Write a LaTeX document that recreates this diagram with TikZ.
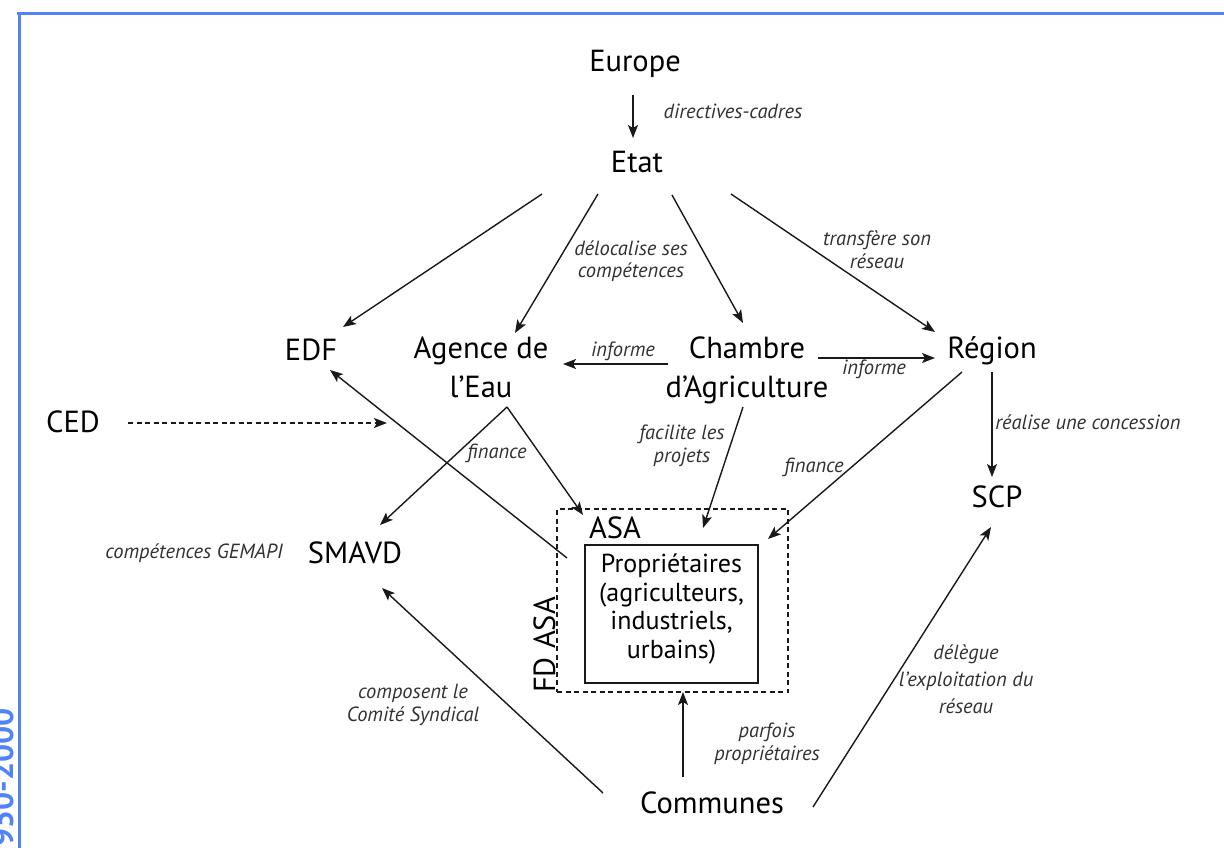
\documentclass[tikz,border=0pt]{standalone}
\usepackage{fontspec}
\setmainfont{PT Sans}
\usetikzlibrary{arrows.meta}
\definecolor{frameblue}{RGB}{80,130,250}
\definecolor{labgray}{RGB}{50,50,50}
\begin{document}
\begin{tikzpicture}[x=1pt,y=-1pt,
  big/.style={inner sep=0, anchor=base, align=center, font=\fontsize{30.5}{39}\selectfont, text=black},
  med/.style={inner sep=0, anchor=base, align=center, font=\fontsize{26}{28.5}\selectfont, text=black},
  lbl/.style={inner sep=0, anchor=base, align=center, font=\fontsize{20.5}{22.5}\selectfont\itshape, text=labgray},
  arr/.style={line width=1.4pt, draw=black!90, -{Stealth[length=13pt,width=10pt,inset=3pt]}},
  darr/.style={arr, dash pattern=on 5pt off 3.5pt},
  framel/.style={line width=3.5pt, draw=frameblue},
  dashbox/.style={draw=black!90, line width=1.8pt, dash pattern=on 5pt off 3.5pt, inner sep=0},
  solidbox/.style={draw=black!90, line width=1.8pt, inner sep=0}
]
\useasboundingbox (0,0) rectangle (1224,848);
\fill[white] (0,0) rectangle (1224,848);

% frame
\draw[framel] (17,13.5) -- (1224,13.5);
\draw[framel] (19.5,12) -- (19.5,848);
\node[inner sep=0, rotate=90, anchor=base east, text=frameblue,
      font=\fontsize{32}{32}\selectfont\bfseries] (years) at (13,708) {1950-2000};

% main nodes (anchor = baseline of last line)
\node[big] (europe) at (635,72) {Europe};
\node[big] (etat) at (637,173) {Etat};
\node[big] (edf) at (311,360) {EDF};
\node[big] (agence) at (481,397) {Agence de\\l’Eau};
\node[big] (chambre) at (747,397) {Chambre\\d’Agriculture};
\node[big] (region) at (992,358) {Région};
\node[big] (ced) at (73,432) {CED};
\node[big] (smavd) at (355,563) {SMAVD};
\node[big] (scp) at (997,507) {SCP};
\node[big] (communes) at (712,813) {Communes};

% ASA group
\node[dashbox, minimum width=231pt, minimum height=183pt] (fdbox) at (672.5,600.5) {};
\node[solidbox, minimum width=173pt, minimum height=138pt] (propbox) at (671.5,614) {};
\node[big] (asa) at (615,538) {ASA};
\node[big, rotate=90, anchor=base west] (fdasa) at (555,693) {FD ASA};
\node[med] (prop) at (671.5,658) {Propriétaires\\(agriculteurs,\\industriels,\\urbains)};

% italic labels
\node[lbl] (l-dir) at (733,119) {directives-cadres};
\node[lbl] (l-deloc) at (631,277.5) {délocalise ses\\compétences};
\node[lbl] (l-transf) at (877,268) {transfère son\\réseau};
\node[lbl] (l-inf1) at (623,356) {informe};
\node[lbl] (l-inf2) at (874,374) {informe};
\node[lbl] (l-fac) at (682,462) {facilite les\\projets};
\node[lbl] (l-fin1) at (497,458) {finance};
\node[lbl] (l-fin2) at (814,472) {finance};
\node[lbl] (l-real) at (1088,429) {réalise une concession};
\node[lbl] (l-gem) at (194,558) {compétences GEMAPI};
\node[lbl] (l-comp) at (413,721) {composent le\\Comité Syndical};
\node[lbl] (l-parf) at (767,760) {parfois\\propriétaires};
\node[lbl, font=\fontsize{20.5}{27}\selectfont\itshape] (l-deleg) at (966,713) {délègue\\l’exploitation du\\réseau};

% connector end points
\coordinate (europe-s) at (633,95);
\coordinate (etat-n) at (633,138);
\coordinate (etat-1) at (542,194);
\coordinate (etat-2) at (598,194);
\coordinate (etat-3) at (672,195);
\coordinate (etat-4) at (731,194);
\coordinate (edf-in) at (343,327);
\coordinate (agence-in) at (515,333);
\coordinate (chambre-in) at (743,323);
\coordinate (region-in) at (935,332);
\coordinate (chambre-w) at (668,364);
\coordinate (agence-e) at (563,364);
\coordinate (chambre-e) at (818,358);
\coordinate (region-w) at (935,358);
\coordinate (region-s) at (992,372);
\coordinate (scp-n) at (992,477);
\coordinate (region-sw) at (962,372);
\coordinate (asa-ne) at (768,539);
\coordinate (chambre-s) at (743,407);
\coordinate (asa-n) at (703,528);
\coordinate (agence-s) at (507,407);
\coordinate (asa-nw) at (583,515);
\coordinate (smavd-n) at (380,525);
\coordinate (asa-w) at (567,558);
\coordinate (edf-s) at (330,370);
\coordinate (ced-e) at (128,423);
\coordinate (ced-tip) at (387,423);
\coordinate (communes-nw) at (603,793);
\coordinate (smavd-s) at (382,588);
\coordinate (communes-n) at (683,777);
\coordinate (fdbox-s) at (683,692);
\coordinate (communes-ne) at (813,807);
\coordinate (scp-s) at (991,527);

% connectors
\draw[arr] (europe-s) -- (etat-n);
\draw[arr] (etat-1) -- (edf-in);
\draw[arr] (etat-2) -- (agence-in);
\draw[arr] (etat-3) -- (chambre-in);
\draw[arr] (etat-4) -- (region-in);
\draw[arr] (chambre-w) -- (agence-e);
\draw[arr] (chambre-e) -- (region-w);
\draw[arr] (region-s) -- (scp-n);
\draw[arr] (region-sw) -- (asa-ne);
\draw[arr] (chambre-s) -- (asa-n);
\draw[arr] (agence-s) -- (asa-nw);
\draw[arr] (agence-s) -- (smavd-n);
\draw[arr] (asa-w) -- (edf-s);
\draw[darr] (ced-e) -- (ced-tip);
\draw[arr] (communes-nw) -- (smavd-s);
\draw[arr] (communes-n) -- (fdbox-s);
\draw[arr] (communes-ne) -- (scp-s);
\end{tikzpicture}
\end{document}
